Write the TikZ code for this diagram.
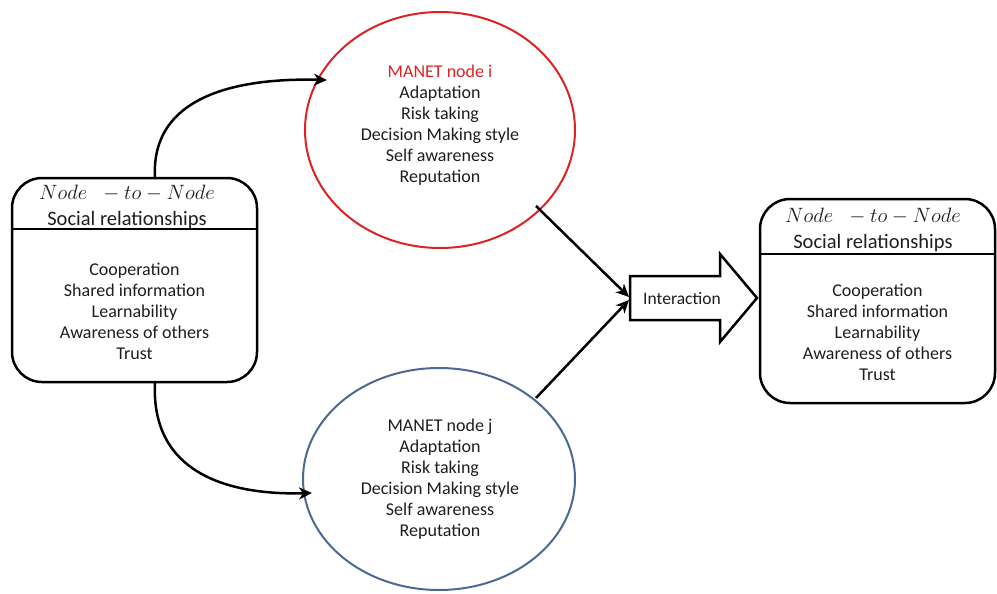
\documentclass[tikz,border=0pt]{standalone}
\usepackage{fontspec}
\setmainfont{Carlito}
\usetikzlibrary{arrows.meta,shapes.geometric,shapes.arrows}
\definecolor{ellred}{RGB}{220,35,35}
\definecolor{ellblue}{RGB}{75,105,145}
\definecolor{txt}{RGB}{30,30,30}
\begin{document}
\begin{tikzpicture}[x=1pt,y=-1pt,
  txtnode/.style={inner sep=0pt,font=\fontsize{18}{21}\selectfont,text=txt,align=center},
  headnode/.style={inner sep=0pt,font=\fontsize{20.5}{26}\selectfont,text=txt,align=center},
  bigbox/.style={draw,line width=2.5pt,rounded corners=30pt},
  conn/.style={line width=2.5pt,-{Stealth[length=13pt,width=12pt,inset=4pt]}},
  ell/.style={draw,ellipse,line width=2pt}]
\useasboundingbox (0,0) rectangle (997,594);
% left box
\draw[bigbox] (12,178) rectangle (257,382);
\node[minimum width=245pt,minimum height=204pt,anchor=north west] (L) at (12,178) {};
\draw[line width=2.5pt] (12,229) -- (257,229);
\node[headnode] (Lh) at (127,207) {$Node\;\;-to-Node$\\Social relationships};
\node[txtnode] (Lb) at (134.5,311.5) {Cooperation\\Shared information\\Learnability\\Awareness of others\\Trust};
% right box
\draw[bigbox] (760,199) rectangle (995,403);
\node[minimum width=235pt,minimum height=204pt,anchor=north west] (R) at (760,199) {};
\draw[line width=2.5pt] (760,254) -- (995,254);
\node[headnode] (Rh) at (873,230) {$Node\;\;-to-Node$\\Social relationships};
\node[txtnode] (Rb) at (877.5,332.5) {Cooperation\\Shared information\\Learnability\\Awareness of others\\Trust};
% ellipses
\node[ell,draw=ellred,minimum width=270pt,minimum height=236pt] (Ei) at (440,130) {};
\node[txtnode] (Eit) at (440,125.5) {\textcolor{ellred}{MANET node i}\\Adaptation\\Risk taking\\Decision Making style\\Self awareness\\Reputation};
\node[ell,draw=ellblue,minimum width=272pt,minimum height=222pt] (Ej) at (439,479) {};
\node[txtnode] (Ejt) at (440,479.5) {MANET node j\\Adaptation\\Risk taking\\Decision Making style\\Self awareness\\Reputation};
% block arrow
\draw[line width=2.5pt,fill=white] (630,276) -- (720,276) -- (720,254) -- (757,298) -- (720,342) -- (720,320) -- (630,320) -- cycle;
\node[txtnode,font=\fontsize{17.5}{20}\selectfont] (Int) at (682,299) {Interaction};
\coordinate (tipA) at (629,297);
\coordinate (tipB) at (629,300);
% connectors
\coordinate (Ltop) at (155,178);
\coordinate (Lbot) at (155,382);
\coordinate (EiIn) at (327,80);
\coordinate (EjIn) at (312,493);
\draw[conn] (Ltop) .. controls (150,90) and (250,78) .. (EiIn);
\draw[conn] (Lbot) .. controls (150,480) and (240,495) .. (EjIn);
\coordinate (EiOut) at (536,206);
\coordinate (EjOut) at (536,398);
\draw[conn] (EiOut) -- (tipA);
\draw[conn] (EjOut) -- (tipB);
\end{tikzpicture}
\end{document}
